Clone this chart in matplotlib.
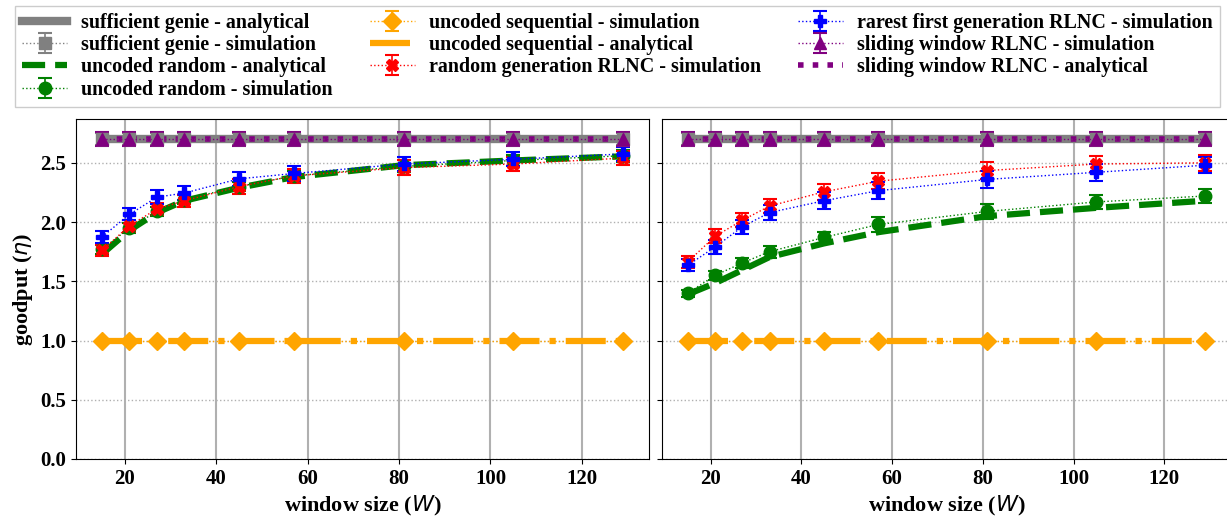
import matplotlib
matplotlib.use('Agg')
import matplotlib.pyplot as plt

plt.rcParams['font.family'] = ['Liberation Serif', 'DejaVu Serif']
plt.rcParams['font.weight'] = 'bold'
plt.rcParams['axes.labelweight'] = 'bold'
# keep the math symbols (W, eta) in regular-weight italic
plt.rcParams['mathtext.fontset'] = 'custom'
plt.rcParams['mathtext.it'] = 'DejaVu Sans:style=italic:weight=normal'
plt.rcParams['mathtext.rm'] = 'DejaVu Sans:weight=normal'

# window sizes used in the simulations
window = [15, 21, 27, 33, 45, 57, 81, 105, 129]

# upper bounds (same in both panels)
genie_ana = [2.70, 2.70, 2.70, 2.70, 2.70, 2.70, 2.70, 2.70, 2.70]
genie_sim = [2.70, 2.70, 2.70, 2.70, 2.70, 2.70, 2.70, 2.70, 2.70]
genie_err = [0.05, 0.05, 0.05, 0.05, 0.05, 0.05, 0.05, 0.05, 0.05]
sw_ana = [2.70, 2.70, 2.70, 2.70, 2.70, 2.70, 2.70, 2.70, 2.70]
sw_sim = [2.70, 2.70, 2.70, 2.70, 2.70, 2.70, 2.70, 2.70, 2.70]
sw_err = [0.06, 0.06, 0.06, 0.06, 0.06, 0.06, 0.06, 0.06, 0.06]
seq_ana = [1.0, 1.0, 1.0, 1.0, 1.0, 1.0, 1.0, 1.0, 1.0]
seq_sim = [1.0, 1.0, 1.0, 1.0, 1.0, 1.0, 1.0, 1.0, 1.0]
seq_err = [0.0, 0.0, 0.0, 0.0, 0.0, 0.0, 0.0, 0.0, 0.0]

# left panel
rand_ana_l = [1.73, 1.93, 2.08, 2.18, 2.29, 2.38, 2.48, 2.52, 2.555]
rand_sim_l = [1.77, 1.95, 2.09, 2.19, 2.30, 2.39, 2.47, 2.52, 2.56]
rand_err_l = [0.04, 0.04, 0.04, 0.04, 0.04, 0.04, 0.05, 0.05, 0.05]
rgen_l = [1.76, 1.97, 2.11, 2.18, 2.30, 2.39, 2.46, 2.49, 2.54]
rgen_err_l = [0.05, 0.05, 0.05, 0.05, 0.06, 0.06, 0.06, 0.06, 0.06]
rarest_l = [1.875, 2.065, 2.21, 2.245, 2.365, 2.41, 2.49, 2.53, 2.575]
rarest_err_l = [0.05, 0.05, 0.06, 0.06, 0.06, 0.06, 0.06, 0.06, 0.06]

# right panel
rand_ana_r = [1.39, 1.485, 1.595, 1.705, 1.82, 1.915, 2.05, 2.12, 2.18]
rand_sim_r = [1.40, 1.55, 1.655, 1.75, 1.87, 1.98, 2.09, 2.17, 2.22]
rand_err_r = [0.03, 0.04, 0.04, 0.05, 0.05, 0.06, 0.06, 0.06, 0.06]
rgen_r = [1.665, 1.88, 2.015, 2.135, 2.255, 2.345, 2.435, 2.49, 2.50]
rgen_err_r = [0.05, 0.06, 0.06, 0.06, 0.07, 0.07, 0.07, 0.07, 0.07]
rarest_r = [1.635, 1.79, 1.96, 2.08, 2.18, 2.265, 2.36, 2.42, 2.48]
rarest_err_r = [0.05, 0.06, 0.06, 0.06, 0.07, 0.07, 0.07, 0.07, 0.07]

panels = [
    (rand_ana_l, rand_sim_l, rand_err_l, rgen_l, rgen_err_l, rarest_l, rarest_err_l),
    (rand_ana_r, rand_sim_r, rand_err_r, rgen_r, rgen_err_r, rarest_r, rarest_err_r),
]

fig = plt.figure(figsize=(12.27, 5.16), dpi=100)
ax1 = fig.add_axes([76 / 1227, 57 / 516, 573 / 1227, 340 / 516])
ax2 = fig.add_axes([662 / 1227, 57 / 516, 569 / 1227, 340 / 516], sharey=ax1)

sim = dict(ls=':', lw=1, capsize=5, elinewidth=1.2, capthick=1.5, ms=9)

for ax, (r_ana, r_sim, r_err, g_sim, g_err, f_sim, f_err) in zip([ax1, ax2], panels):
    h = []
    h += ax.plot(window, genie_ana, color='gray', lw=6, label='sufficient genie - analytical')
    h.append(ax.errorbar(window, genie_sim, yerr=genie_err, color='gray', marker='s',
                         label='sufficient genie - simulation', **sim))
    h += ax.plot(window, r_ana, color='green', ls='--', lw=4.5, label='uncoded random - analytical')
    h.append(ax.errorbar(window, r_sim, yerr=r_err, color='green', marker='o',
                         label='uncoded random - simulation', **sim))
    h.append(ax.errorbar(window, seq_sim, yerr=seq_err, color='orange', marker='D',
                         label='uncoded sequential - simulation', **sim))
    h += ax.plot(window, seq_ana, color='orange', ls='-.', lw=4.5,
                 label='uncoded sequential - analytical')
    h.append(ax.errorbar(window, g_sim, yerr=g_err, color='red', marker='X',
                         label='random generation RLNC - simulation', **sim))
    h.append(ax.errorbar(window, f_sim, yerr=f_err, color='blue', marker='P',
                         label='rarest first generation RLNC - simulation', **sim))
    h.append(ax.errorbar(window, sw_sim, yerr=sw_err, color='purple', marker='^',
                         label='sliding window RLNC - simulation', **sim))
    h += ax.plot(window, sw_ana, color='purple', ls=':', lw=4, label='sliding window RLNC - analytical')
    if ax is ax1:
        handles = h

    ax.set_axisbelow(True)
    ax.xaxis.grid(True, color='#b0b0b0', lw=1.5, ls='-')
    ax.yaxis.grid(True, color='#b0b0b0', lw=1, ls=':')
    ax.set_xlabel('window size ($W$)', fontsize=16)
    ax.tick_params(labelsize=15)

ax1.set_ylim(0, 2.87)
ax1.set_yticks([0.0, 0.5, 1.0, 1.5, 2.0, 2.5])
ax1.set_ylabel('goodput ($\\eta$)', fontsize=16)
plt.setp(ax2.get_yticklabels(), visible=False)

labels = [x.get_label() for x in handles]
leg = fig.legend(handles, labels, loc='upper left', bbox_to_anchor=(15 / 1227, 1 - 6 / 516),
                 borderaxespad=0, ncol=3, fontsize=14.4, handlelength=2.25,
                 labelspacing=0.11, columnspacing=1.85, handletextpad=0.7, borderpad=0.35,
                 fancybox=False, edgecolor='#cccccc', framealpha=1)

fig.savefig('out.png', dpi=100)
